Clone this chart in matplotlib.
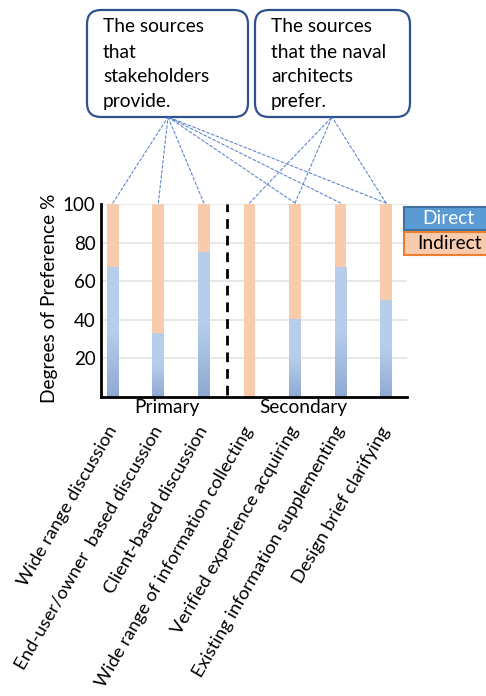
import numpy as np
import matplotlib

matplotlib.use("Agg")
import matplotlib.pyplot as plt
from matplotlib.colors import LinearSegmentedColormap
from matplotlib.patches import ConnectionPatch, FancyBboxPatch, Rectangle
from matplotlib.transforms import blended_transform_factory

plt.rcParams["font.family"] = ["Lato", "DejaVu Sans"]

categories = [
    "Wide range discussion",
    "End-user/owner  based discussion",
    "Client-based discussion",
    "Wide range of information collecting",
    "Verified experience acquiring",
    "Existing information supplementing",
    "Design brief clarifying",
]
direct = [67, 33, 75, 0, 40, 67, 50]
indirect = [100 - d for d in direct]
groups = ["Primary", "Secondary"]
yticks = [20, 40, 60, 80, 100]

callouts = [
    ["The sources", "that", "stakeholders", "provide."],
    ["The sources", "that the naval", "architects", "prefer."],
]
# which bars each callout points to
links = [[0, 1, 2, 4, 5, 6], [3, 4, 6]]

FS = 13.8
W, H = 486, 696
fig = plt.figure(figsize=(W / 100, H / 100), dpi=100)
ax = fig.add_axes([101 / W, 1 - 397 / H, 306 / W, 193 / H])

x = np.arange(len(categories))
bw = 0.26
blue_cmap = LinearSegmentedColormap.from_list("b", ["#8faad2", "#b6cdeb", "#b8cfec"])
orange = "#f8cbad"

for yv in yticks:
    ax.axhline(yv, color="#e3e3e3", lw=1.2, zorder=0)

ax.bar(x, indirect, bw, bottom=direct, color=orange, zorder=2)
grad = np.linspace(0, 1, 100).reshape(-1, 1)
for xi, d in zip(x, direct):
    if d > 0:
        ax.imshow(grad, cmap=blue_cmap, origin="lower", aspect="auto",
                  extent=[xi - bw / 2, xi + bw / 2, 0, d], zorder=2)

ax.plot([2.5, 2.5], [1, 100], color="black", lw=2, dashes=(3.5, 2.5), zorder=3)

ax.set_xlim(-0.26, 6.46)
ax.set_ylim(0, 100)
ax.set_yticks(yticks)
ax.tick_params(axis="y", length=0, pad=4, labelsize=13.5)
ax.set_xticks(x)
ax.set_xticklabels(categories, rotation=60, ha="right", va="center",
                   rotation_mode="anchor", fontsize=13.3)
ax.tick_params(axis="x", length=0, pad=22)
for side in ["top", "right"]:
    ax.spines[side].set_visible(False)
for side in ["left", "bottom"]:
    ax.spines[side].set_linewidth(2)

tr = blended_transform_factory(ax.transData, ax.transAxes)
ax.text(1.19, -0.052, groups[0], transform=tr, ha="center", va="center", fontsize=FS)
ax.text(4.18, -0.052, groups[1], transform=tr, ha="center", va="center", fontsize=FS)

fig.text(49 / W, 1 - 298 / H, "Degrees of Preference %", rotation=90,
         ha="center", va="center", fontsize=FS)

# overlay in pixel units for callouts and legend boxes
ov = fig.add_axes([0, 0, 1, 1])
ov.set_xlim(0, W)
ov.set_ylim(H, 0)
ov.axis("off")
ov.patch.set_alpha(0)

boxes = [(87, 10, 161, 107), (255, 10, 155, 107)]
anchors = [(168, 117), (332, 117)]
for (bx, by, bw_, bh), lines in zip(boxes, callouts):
    ov.add_patch(FancyBboxPatch((bx + 14, by + 14), bw_ - 28, bh - 28,
                                boxstyle="round,pad=14", fc="white",
                                ec="#2f528f", lw=1.6))
    for i, line in enumerate(lines):
        ov.text(bx + 16, by + 17 + i * 25, line, ha="left", va="center", fontsize=FS)

for (axp, ayp), idx in zip(anchors, links):
    for i in idx:
        con = ConnectionPatch(xyA=(x[i], 100.5), coordsA=ax.transData,
                              xyB=(axp, ayp), coordsB=ov.transData,
                              color="#4472c4", lw=0.8, linestyle=(0, (2.5, 2)),
                              alpha=0.85)
        fig.add_artist(con)

ov.add_patch(Rectangle((404, 207), 90, 23, fc="#5b9bd5", ec="#41719c", lw=1.5, clip_on=False))
ov.text(448, 218.5, "Direct", color="white", ha="center", va="center", fontsize=FS)
ov.add_patch(Rectangle((404, 232), 90, 23, fc=orange, ec="#ed7d31", lw=1.5, clip_on=False))
ov.text(449, 243.5, "Indirect", color="black", ha="center", va="center", fontsize=FS)

fig.savefig("out.png", dpi=100)
